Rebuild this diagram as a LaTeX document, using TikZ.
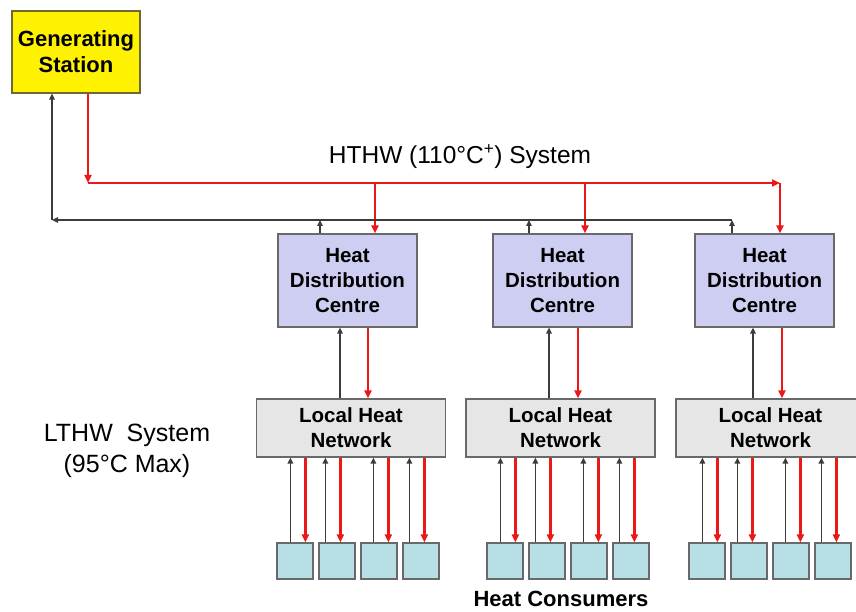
\documentclass[tikz,border=0pt]{standalone}
\usepackage{fontspec}
\setmainfont{Liberation Sans}
\usetikzlibrary{arrows.meta}
\definecolor{hotred}{RGB}{236,24,24}
\definecolor{coldgray}{RGB}{60,60,60}
\definecolor{edgegray}{RGB}{105,105,105}
\definecolor{gsedge}{RGB}{110,105,50}
\definecolor{hdcfill}{RGB}{206,206,242}
\definecolor{lhnfill}{RGB}{230,230,230}
\definecolor{confill}{RGB}{184,222,230}
\begin{document}
\begin{tikzpicture}[x=1pt,y=-1pt,
  box/.style={draw=edgegray, line width=1.2pt, inner sep=0pt, align=center,
    font=\bfseries\fontsize{20.5}{25}\selectfont},
  gsbox/.style={box, fill=yellow, draw=gsedge, minimum width=128pt, minimum height=82pt,
    font=\bfseries\fontsize{22}{26}\selectfont},
  hdcbox/.style={box, fill=hdcfill, minimum width=139pt, minimum height=93pt},
  lhnbox/.style={box, fill=lhnfill, minimum width=189pt, minimum height=58pt},
  conbox/.style={box, fill=confill, minimum width=36pt, minimum height=36pt},
  hot/.style={draw=hotred, line width=2.8pt, -{Triangle[length=8pt,width=7pt]}},
  cold/.style={draw=coldgray, line width=1.5pt, -{Triangle[length=6pt,width=5.5pt]}},
  ]
\useasboundingbox[fill=white] (0,0) rectangle (856,612);

% Generating station and the two main pipe runs
\node[gsbox] (gs) at (76,52) {Generating\\Station};
\coordinate (supL) at (88,183);
\coordinate (supR) at (780,183);
\coordinate (retL) at (52,220);
\coordinate (retR) at (732,220);

% Heat distribution centres, local networks and consumers
\foreach \g/\hx/\lx/\cx/\hb/\hr/\lb/\lr in
  {1/347.5/351/277/320/375/340/368,
   2/562.5/560.5/487/529/585/549/578,
   3/764.5/770.5/689/732/780/753/782} {
  \node[hdcbox] (hdc\g) at (\hx,280.5) {Heat\\Distribution\\Centre};
  \node[lhnbox] (lhn\g) at (\lx,428) {Local Heat\\Network};
  \coordinate (hb\g) at (\hb,0);
  \coordinate (hr\g) at (\hr,0);
  \coordinate (lb\g) at (\lb,0);
  \coordinate (lr\g) at (\lr,0);
  % HTHW flow and return
  \draw[hot] (hr\g |- supL) -- (hdc\g.north -| hr\g);
  \draw[cold] (hdc\g.north -| hb\g) -- (hb\g |- retL);
  % centre to local network
  \draw[hot] (hdc\g.south -| lr\g) -- (lhn\g.north -| lr\g);
  \draw[cold] (lhn\g.north -| lb\g) -- (hdc\g.south -| lb\g);
  % consumers
  \foreach \k/\b/\r in {0/14/29,1/7/22,2/13/28,3/7/22} {
    \node[conbox] (con\g\k) at (\cx+\k*42+18,561) {};
    \draw[cold] ([xshift=\b pt]con\g\k.north west)
      -- ([xshift=\b pt]con\g\k.north west |- lhn\g.south);
    \draw[hot] ([xshift=\r pt]con\g\k.north west |- lhn\g.south)
      -- ([xshift=\r pt]con\g\k.north west);
  }
}

% main flow (red) and return (dark) runs
\draw[hot] (gs.south -| supL) -- (supL);
\draw[hot] (supL) -- (supR);
\draw[cold] (retR) -- (retL);
\draw[cold] (retL) -- (gs.south -| retL);

% labels
\node[font=\fontsize{24.5}{28}\selectfont] (hthw) at (460,157)
  {HTHW (110°C\textsuperscript{+}) System};
\node[font=\fontsize{25}{31}\selectfont, align=center] (lthw) at (127,451)
  {LTHW\ \ System\\(95°C Max)};
\node[font=\bfseries\fontsize{22}{25}\selectfont] (consumers) at (561,599)
  {Heat Consumers};
\end{tikzpicture}
\end{document}
